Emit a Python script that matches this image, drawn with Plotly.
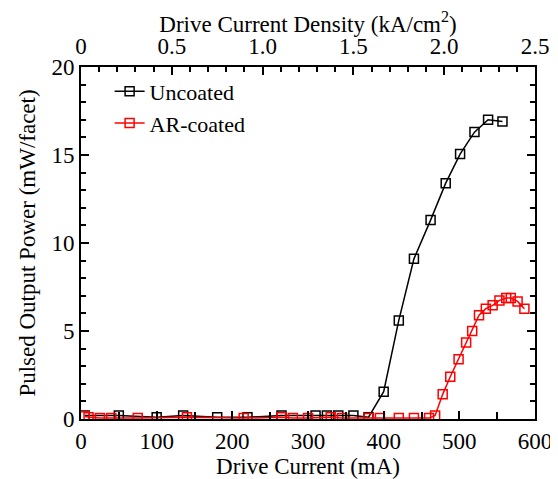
import plotly.graph_objects as go

# Uncoated facet (black)
unc_current = [5, 50, 100, 135, 180, 220, 265, 310, 325, 340, 360, 380,
               400, 420, 440, 462, 482, 501, 520, 538, 557]
unc_power = [0.2, 0.2, 0.1, 0.2, 0.1, 0.1, 0.2, 0.2, 0.2, 0.2, 0.2, 0.1,
             1.55, 5.6, 9.1, 11.3, 13.4, 15.05, 16.3, 17.0, 16.9]

# AR-coated facet (red)
ar_current = [5, 10, 25, 40, 75, 140, 215, 265, 280, 300, 330, 345, 380, 395,
              420, 440, 460, 468, 478, 488, 499, 509, 517, 526, 535, 544,
              553, 562, 568, 577, 586]
ar_power = [0.15, 0.1, 0.05, 0.05, 0.05, 0.1, 0.05, 0.1, 0.05, 0.05, 0.1, 0.05,
            0.05, 0.05, 0.05, 0.05, 0.05, 0.2, 1.4, 2.4, 3.4, 4.35, 5.0, 5.9,
            6.27, 6.46, 6.74, 6.87, 6.87, 6.68, 6.27]

density_range = [0, 2.5]
density_ticks = [0, 0.5, 1.0, 1.5, 2.0, 2.5]
density_labels = ["0", "0.5", "1.0", "1.5", "2.0", "2.5"]

FONT = "Liberation Serif"
TICK_SIZE = 23
TITLE_SIZE = 23

fig = go.Figure()
fig.add_trace(go.Scatter(
    x=unc_current, y=unc_power, mode="lines+markers", name="Uncoated",
    line=dict(color="black", width=1.5),
    marker=dict(symbol="square-open", size=9, color="black", line=dict(width=1.5)),
))
fig.add_trace(go.Scatter(
    x=ar_current, y=ar_power, mode="lines+markers", name="AR-coated",
    line=dict(color="red", width=1.5),
    marker=dict(symbol="square-open", size=9, color="red", line=dict(width=1.5)),
))
# empty trace to carry the top density axis
fig.add_trace(go.Scatter(x=density_range, y=[None, None], xaxis="x2",
                         showlegend=False, hoverinfo="skip", mode="lines"))

fig.update_layout(
    width=558, height=479,
    margin=dict(l=73, r=31, t=59, b=68),
    paper_bgcolor="white", plot_bgcolor="white",
    font=dict(family=FONT, size=TICK_SIZE, color="black"),
    showlegend=True,
    legend=dict(x=0.063, y=0.99, xanchor="left", yanchor="top",
                bgcolor="rgba(0,0,0,0)", font=dict(family=FONT, size=22),
                tracegroupgap=0, itemwidth=30),
    xaxis=dict(
        range=[0, 600], tickmode="array", tickvals=[0, 100, 200, 300, 400, 500, 600],
        ticks="inside", ticklen=8, tickwidth=1.5, tickcolor="black",
        minor=dict(dtick=50, ticks="inside", ticklen=7, tickwidth=1.5, tickcolor="black"),
        showline=True, linecolor="black", linewidth=2, mirror=True,
        showgrid=False, zeroline=False, automargin=False,
        title=dict(text="Drive Current (mA)", font=dict(size=TITLE_SIZE), standoff=1),
        tickfont=dict(size=TICK_SIZE),
    ),
    xaxis2=dict(
        range=density_range, overlaying="x", side="top",
        tickmode="array", tickvals=density_ticks, ticktext=density_labels,
        ticks="inside", ticklen=8, tickwidth=1.5, tickcolor="black",
        minor=dict(dtick=0.1, ticks="inside", ticklen=5, tickwidth=1.5, tickcolor="black"),
        showline=False, showgrid=False, zeroline=False, automargin=False,
        ticklabelstandoff=7,
        title=dict(text="Drive Current Density (kA/cm<sup>2</sup>)", font=dict(size=TITLE_SIZE), standoff=3),
        tickfont=dict(size=TICK_SIZE),
    ),
    yaxis=dict(
        range=[0, 20], tickmode="array", tickvals=[0, 5, 10, 15, 20],
        ticks="inside", ticklen=8, tickwidth=1.5, tickcolor="black",
        minor=dict(dtick=1, ticks="inside", ticklen=5, tickwidth=1.5, tickcolor="black"),
        showline=True, linecolor="black", linewidth=2, mirror="ticks",
        showgrid=False, zeroline=False, automargin=False,
        title=dict(text="Pulsed Output Power (mW/facet)", font=dict(size=TITLE_SIZE), standoff=9),
        tickfont=dict(size=TICK_SIZE),
    ),
)

fig.write_html("out.html")
